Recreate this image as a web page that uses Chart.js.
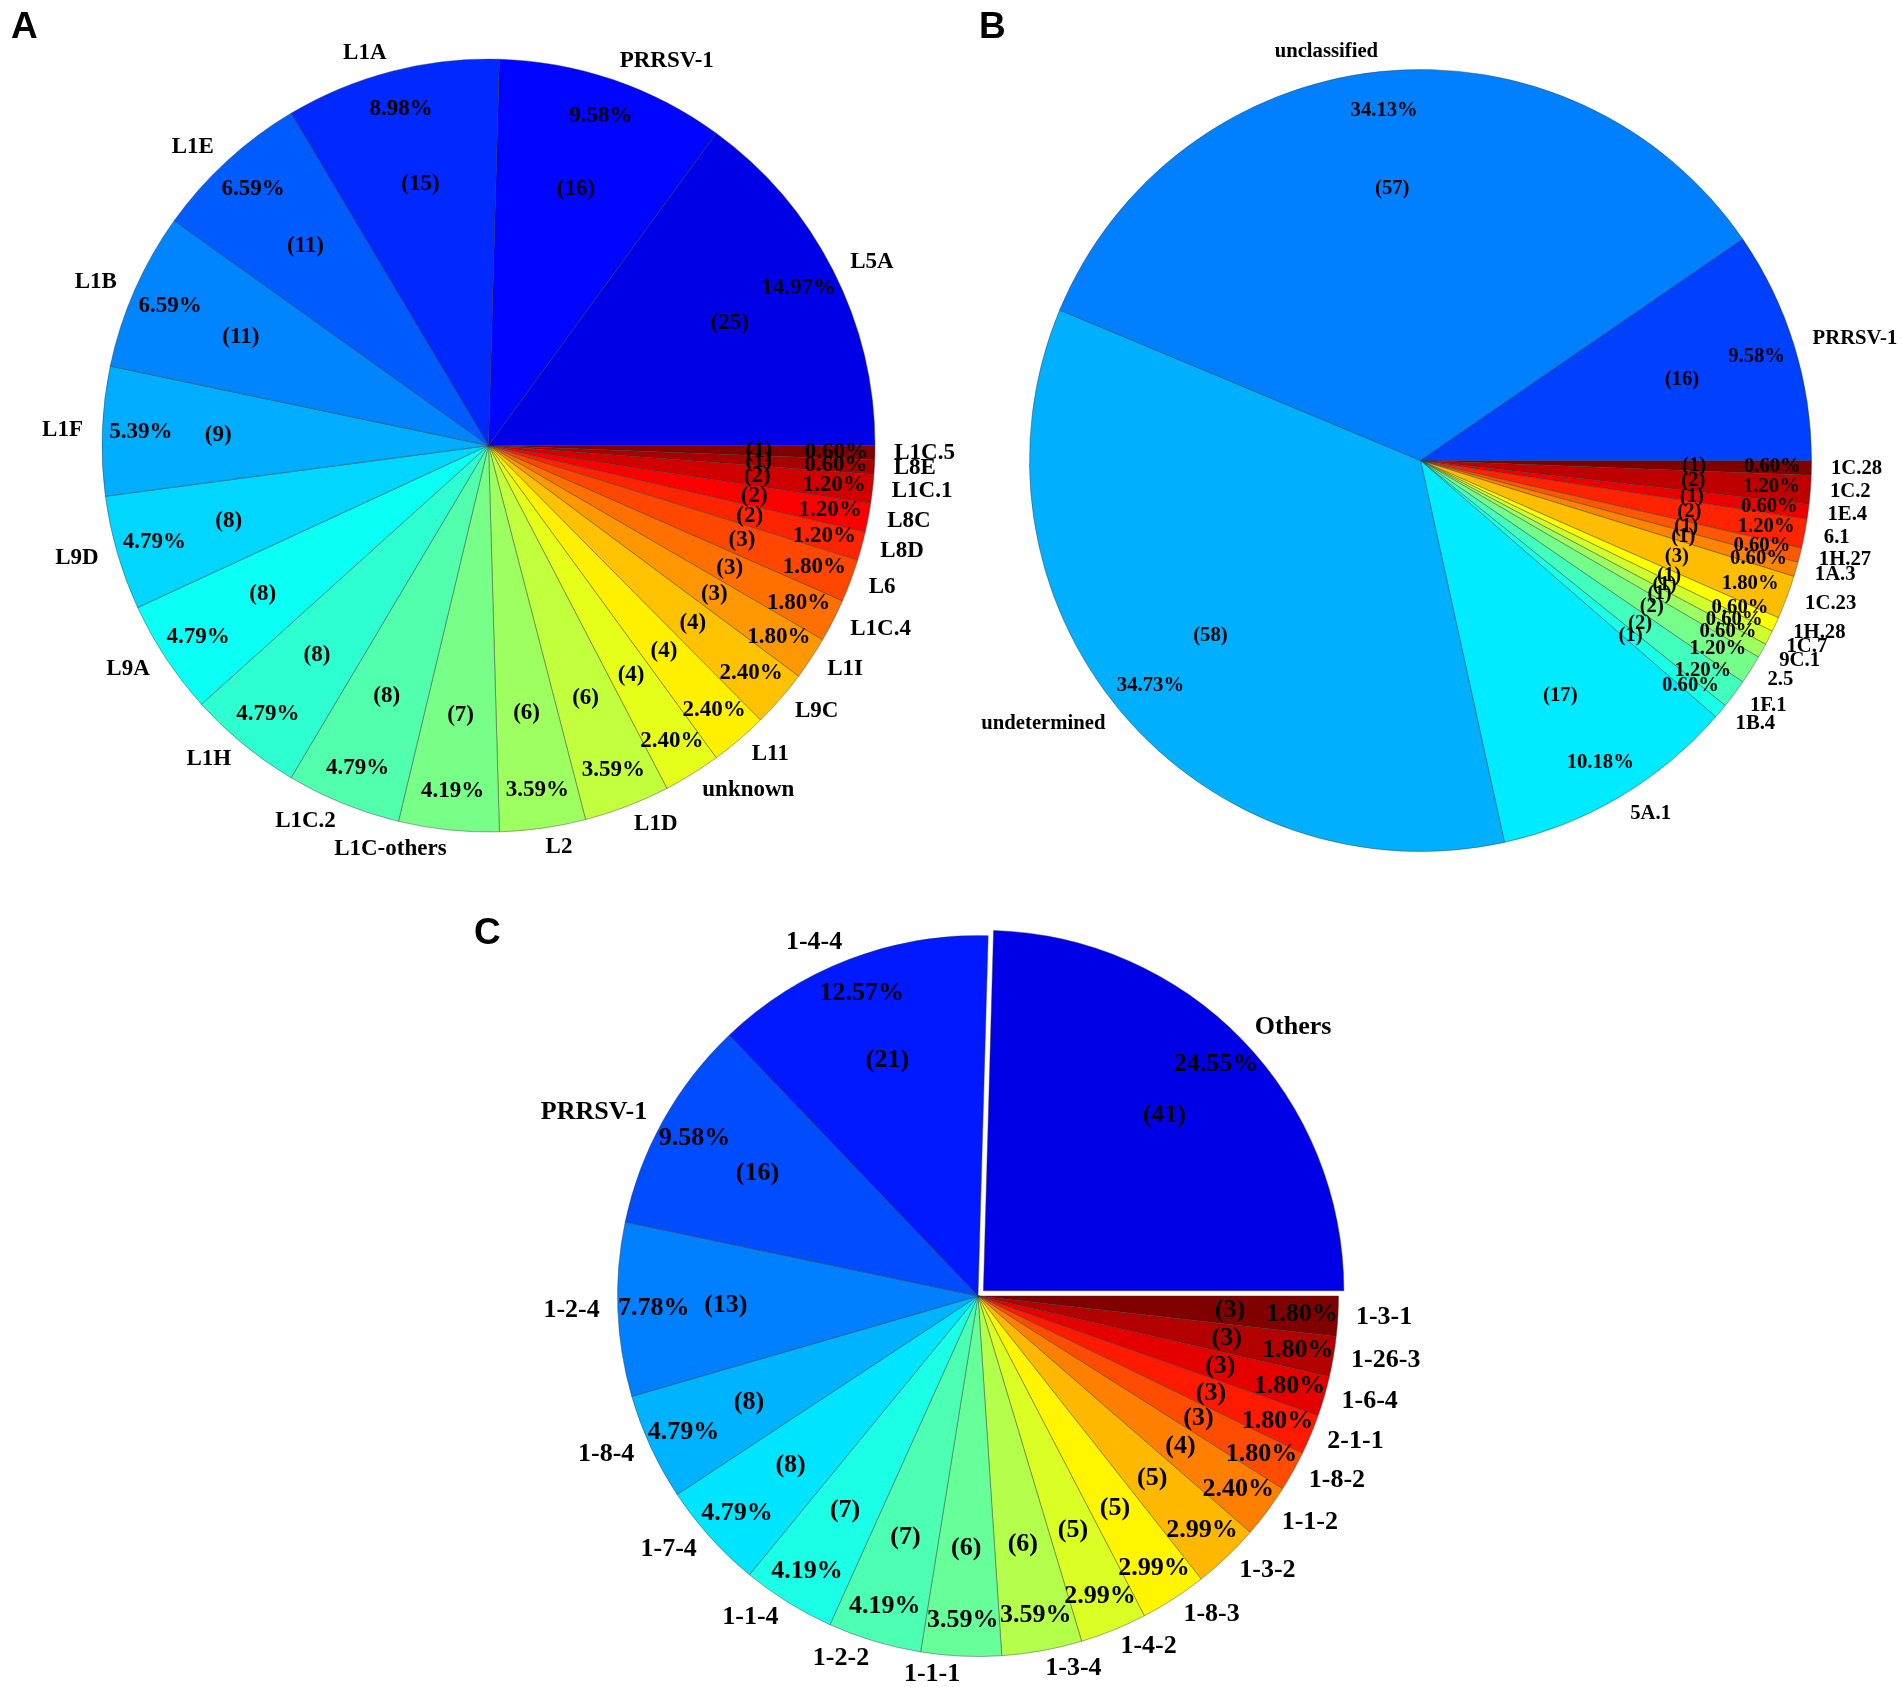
<!DOCTYPE html>
<html><head><meta charset="utf-8">
<style>html,body{margin:0;padding:0;background:#fff;width:1902px;height:1687px;overflow:hidden}canvas{position:absolute;display:block}</style>
<script src="https://cdn.jsdelivr.net/npm/chart.js@4"></script>
</head><body>
<canvas id="a"></canvas><canvas id="b"></canvas><canvas id="c"></canvas>
<script>
const namesA = ["L1C.5","L8E","L1C.1","L8C","L8D","L6","L1C.4","L1I","L9C","L11","unknown","L1D","L2","L1C-others","L1C.2","L1H","L9A","L9D","L1F","L1B","L1E","L1A","PRRSV-1","L5A"];
const countsA = [1,1,2,2,2,3,3,3,4,4,4,6,6,7,8,8,8,8,9,11,11,15,16,25];
const namesB = ["1C.28","1C.2","1E.4","6.1","1H.27","1A.3","1C.23","1H.28","1C.7","9C.1","2.5","1F.1","1B.4","5A.1","undetermined","unclassified","PRRSV-1"];
const countsB = [1,2,1,2,1,1,3,1,1,1,2,2,1,17,58,57,16];
const namesC = ["1-3-1","1-26-3","1-6-4","2-1-1","1-8-2","1-1-2","1-3-2","1-8-3","1-4-2","1-3-4","1-1-1","1-2-2","1-1-4","1-7-4","1-8-4","1-2-4","PRRSV-1","1-4-4","Others"];
const countsC = [3,3,3,3,3,4,5,5,5,6,6,7,7,8,8,13,16,21,41];
// positions along the jet colour map, one per slice
const shadesA = [1,.96,.92,.88,.84,.805,.765,.726,.685,.64,.6,.565,.53,.4925,.455,.42,.385,.335,.295,.255,.215,.165,.13,.1];
const shadesB = [1,.94,.895,.84,.79,.745,.69,.625,.58,.53,.49,.44,.4,.355,.2975,.25,.1875];
const shadesC = [1,.95,.9,.85,.8,.75,.695,.635,.59,.55,.475,.45,.4,.35,.3,.25,.2,.15,.1];

const clamp01 = v => Math.max(0, Math.min(1, v));
function jet(t){
  const r = clamp01(Math.min(4*t-1.5, -4*t+4.5));
  const g = clamp01(Math.min(4*t-0.5, -4*t+3.5));
  const b = clamp01(Math.min(4*t+0.5, -4*t+2.5));
  return `rgb(${Math.round(r*255)},${Math.round(g*255)},${Math.round(b*255)})`;
}
const pieLabels = {
  id:'pieLabels',
  afterDraw(chart, _args, o){
    const ctx = chart.ctx, meta = chart.getDatasetMeta(0), data = chart.data.datasets[0].data;
    const total = data.reduce((s,v)=>s+v,0);
    ctx.save();
    ctx.fillStyle = '#000';
    ctx.textBaseline = 'middle';
    ctx.font = `bold ${o.size}px "Liberation Serif"`;
    meta.data.forEach((arc,i)=>{
      const p = arc.getProps(['x','y','startAngle','endAngle','outerRadius'], true);
      const mid = (p.startAngle+p.endAngle)/2, R = p.outerRadius;
      const off = (arc.options.offset||0)/4;
      const cx = p.x+Math.cos(mid)*off, cy = p.y+Math.sin(mid)*off;
      const at = f => [cx+Math.cos(mid)*R*f, cy+Math.sin(mid)*R*f];
      let [x,y] = at(1.05);
      ctx.textAlign = Math.cos(mid) >= 0 ? 'left' : 'right';
      ctx.fillText(chart.data.labels[i], x, y);
      ctx.textAlign = 'center';
      [x,y] = at(0.9);
      ctx.fillText((data[i]/total*100).toFixed(2)+'%', x, y);
      [x,y] = at(0.7);
      ctx.fillText('('+data[i]+')', x, y);
    });
    ctx.font = `bold 37px "Liberation Sans"`;
    ctx.textAlign = 'left';
    ctx.textBaseline = 'alphabetic';
    const rect = chart.canvas.getBoundingClientRect();
    ctx.fillText(o.letter, o.letterX-rect.left, o.letterY-rect.top);
    ctx.restore();
  }
};
function panel(id, names, counts, shades, cx, cy, R, half, size, letter, letterX, letterY, offsets){
  const cv = document.getElementById(id);
  cv.width = cv.height = half*2;
  cv.style.width = cv.style.height = half*2+'px';
  cv.style.left = (cx-half)+'px';
  cv.style.top = (cy-half)+'px';
  new Chart(cv,{
    type:'pie',
    data:{labels:names,datasets:[{
      data:counts,
      backgroundColor:shades.map(jet),
      borderColor:'rgba(50,50,50,0.42)',
      borderWidth:1,
      offset:offsets||0
    }]},
    options:{
      responsive:false,animation:false,devicePixelRatio:1,rotation:90,radius:R,
      layout:{padding:0},
      plugins:{legend:{display:false},tooltip:{enabled:false},
        pieLabels:{size,letter,letterX,letterY}}
    },
    plugins:[pieLabels]
  });
}
panel('a',namesA,countsA,shadesA,488.5,445.5,386.5,500.5,23,'A',11,38);
panel('b',namesB,countsB,shadesB,1420.5,460.5,391,500.5,20.7,'B',979,38);
panel('c',namesC,countsC,shadesC,978,1296,360.5,530,26,'C',474,944,countsC.map((_,i)=>i===countsC.length-1?30:0));
</script>
</body></html>
